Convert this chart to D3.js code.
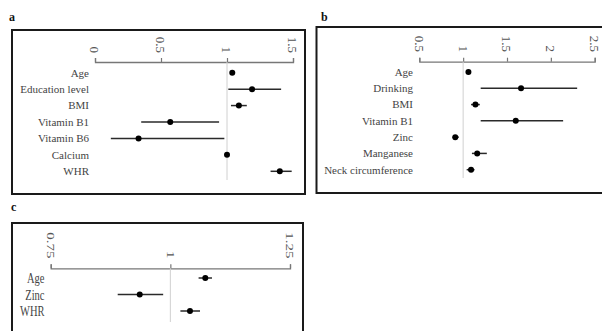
<!DOCTYPE html>
<html>
<head>
<meta charset="utf-8">
<script src="https://cdn.jsdelivr.net/npm/d3@7"></script>
<style>
  body { margin: 0; background: #fff; }
  text { font-family: "Liberation Serif", "DejaVu Serif", serif; }
</style>
</head>
<body>
<div class="container"></div>
<script>
// panel a
const catsA = ["Age", "Education level", "BMI", "Vitamin B1", "Vitamin B6", "Calcium", "WHR"];
const orA = [1.04, 1.19, 1.09, 0.57, 0.33, 1.00, 1.40];
const loA = [1.03, 1.01, 1.03, 0.35, 0.12, 0.99, 1.33];
const hiA = [1.05, 1.41, 1.15, 0.94, 0.98, 1.01, 1.49];
const ticksA = [0, 0.5, 1, 1.5];

// panel b
const catsB = ["Age", "Drinking", "BMI", "Vitamin B1", "Zinc", "Manganese", "Neck circumference"];
const orB = [1.06, 1.66, 1.14, 1.60, 0.91, 1.16, 1.09];
const loB = [1.05, 1.20, 1.09, 1.20, 0.88, 1.10, 1.04];
const hiB = [1.07, 2.30, 1.19, 2.14, 0.95, 1.27, 1.13];
const ticksB = [0.5, 1, 1.5, 2, 2.5];

// panel c
const catsC = ["Age", "Zinc", "WHR"];
const orC = [1.073, 0.936, 1.041];
const loC = [1.059, 0.89, 1.021];
const hiC = [1.087, 0.985, 1.062];
const ticksC = [0.75, 1, 1.25];

const svg = d3.select(".container")
    .append("svg")
    .attr("width", 602)
    .attr("height", 331);

const panels = [
  { letter: "a", lx: 9, ly: 21, box: [12, 30, 293, 164],
    cats: catsA, or: orA, lo: loA, hi: hiA, ticks: ticksA,
    domain: [0, 1.5], range: [95, 293], axisY: 62, rows: [72.7, 171.3], refEnd: 180,
    labelX: 89, fs: 11, sx: 1, tickFs: 13, tickEnd: 53, r: 3 },
  { letter: "b", lx: 321, ly: 20.5, box: [316.5, 27, 300, 166],
    cats: catsB, or: orB, lo: loB, hi: hiB, ticks: ticksB,
    domain: [0.5, 2.5], range: [419.3, 594.7], axisY: 61.7, rows: [72, 169.7], refEnd: 178,
    labelX: 413, fs: 11, sx: 1, tickFs: 13, tickEnd: 52, r: 3 },
  { letter: "c", lx: 11, ly: 210.5, box: [12, 223, 291, 130],
    cats: catsC, or: orC, lo: loC, hi: hiC, ticks: ticksC,
    domain: [0.75, 1.25], range: [50.7, 290], axisY: 268.3, rows: [278, 311], refEnd: 322,
    labelX: 44.5, fs: 15, sx: 0.7, tickFs: 15, tickEnd: 258.5, r: 3 }
];

panels.forEach(p => {
  const g = svg.append("g");

  g.append("text")
      .attr("x", p.lx)
      .attr("y", p.ly)
      .attr("font-size", 12)
      .attr("font-weight", "bold")
      .attr("fill", "#111")
      .text(p.letter);

  g.append("rect")
      .attr("x", p.box[0])
      .attr("y", p.box[1])
      .attr("width", p.box[2])
      .attr("height", p.box[3])
      .attr("fill", "none")
      .attr("stroke", "#1a1a1a")
      .attr("stroke-width", 2);

  const x = d3.scaleLinear().domain(p.domain).range(p.range);
  const y = d3.scalePoint().domain(p.cats).range(p.rows);

  // axis on top, ticks pointing up, labels rotated
  const axis = g.append("g")
      .attr("transform", `translate(0, ${p.axisY})`)
      .call(d3.axisTop(x).tickValues(p.ticks).tickSize(4).tickSizeOuter(4).tickFormat(d3.format("")));
  axis.select(".domain").attr("stroke", "#777").attr("stroke-width", 1.3);
  axis.selectAll(".tick line").attr("stroke", "#777").attr("stroke-width", 1.2);
  axis.selectAll(".tick text").remove();

  g.selectAll(".ticklab")
      .data(p.ticks)
      .enter()
      .append("text")
      .attr("class", "ticklab")
      .attr("transform", d => `translate(${x(d)}, ${p.tickEnd}) scale(${p.sx}, 1) rotate(90)`)
      .attr("text-anchor", "end")
      .attr("dy", "0.35em")
      .attr("font-size", p.tickFs)
      .attr("fill", "#555")
      .text(d => d);

  // reference line at 1
  g.append("line")
      .attr("x1", x(1)).attr("x2", x(1))
      .attr("y1", p.axisY).attr("y2", p.refEnd)
      .attr("stroke", "#d0d0d0")
      .attr("stroke-width", 1);

  const rows = p.cats.map((c, i) => ({ cat: c, or: p.or[i], lo: p.lo[i], hi: p.hi[i] }));

  g.selectAll(".lab")
      .data(rows)
      .enter()
      .append("text")
      .attr("class", "lab")
      .attr("transform", d => `translate(${p.labelX}, ${y(d.cat)}) scale(${p.sx}, 1)`)
      .attr("text-anchor", "end")
      .attr("dy", "0.35em")
      .attr("font-size", p.fs)
      .attr("fill", "#444")
      .text(d => d.cat);

  g.selectAll(".ci")
      .data(rows)
      .enter()
      .append("line")
      .attr("class", "ci")
      .attr("x1", d => x(d.lo))
      .attr("x2", d => x(d.hi))
      .attr("y1", d => y(d.cat))
      .attr("y2", d => y(d.cat))
      .attr("stroke", "#2a2a2a")
      .attr("stroke-width", 1.5);

  g.selectAll(".dot")
      .data(rows)
      .enter()
      .append("circle")
      .attr("class", "dot")
      .attr("cx", d => x(d.or))
      .attr("cy", d => y(d.cat))
      .attr("r", p.r)
      .attr("fill", "#000");
});
</script>
</body>
</html>
